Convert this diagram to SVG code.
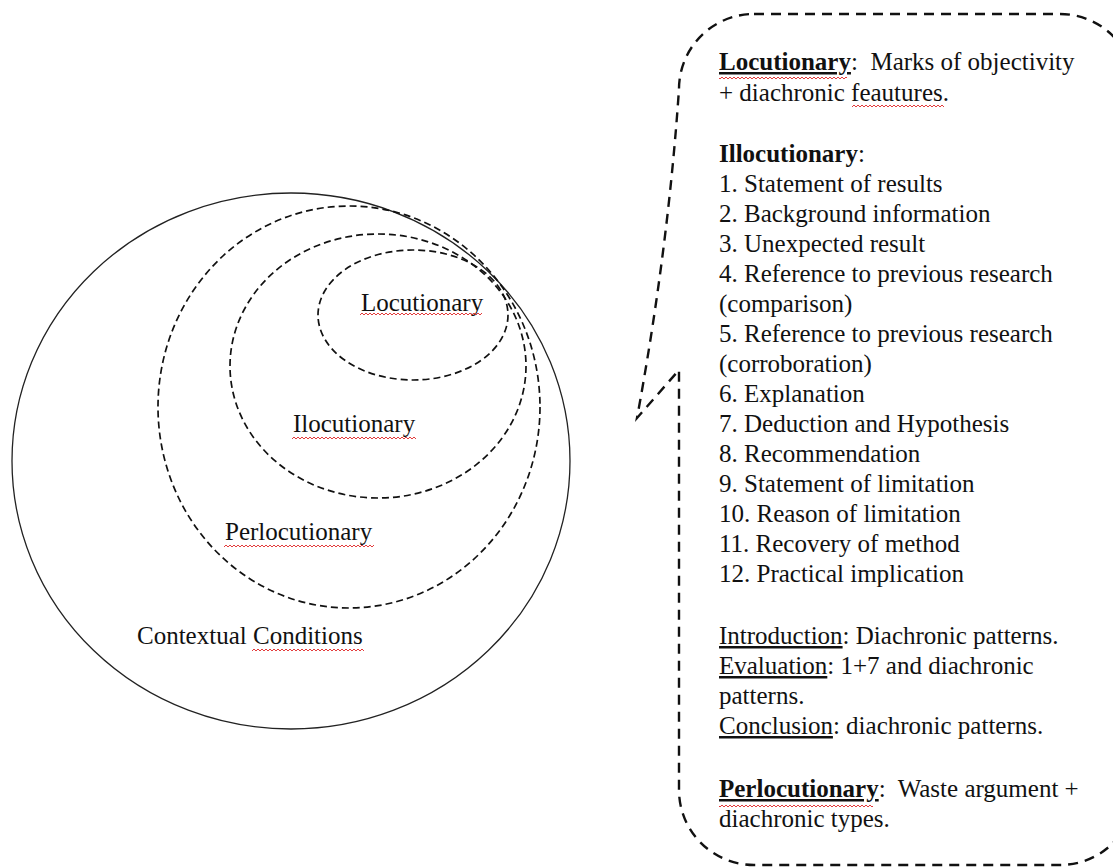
<svg xmlns="http://www.w3.org/2000/svg" width="1113" height="868" viewBox="0 0 1113 868">
<style>
text{font-family:"Liberation Serif","Times New Roman",serif;font-size:25px;fill:#111}
.b{font-weight:bold}
.u{text-decoration:underline}
.solid{fill:none;stroke:#222;stroke-width:1.3}
.dash{fill:none;stroke:#111;stroke-width:1.7;stroke-dasharray:7 4}
.bubble{fill:none;stroke:#111;stroke-width:2.4;stroke-dasharray:10 7}
</style>
<defs>
<pattern id="sq" width="4" height="4" patternUnits="userSpaceOnUse"><path d="M0,3 L2,1 L4,3" fill="none" stroke="#e02525" stroke-width="0.9"/></pattern>
</defs>
<rect width="1113" height="868" fill="#fff"/>
<g id="contextual">
<ellipse class="solid" cx="291" cy="461" rx="279" ry="268"/>
<text x="137" y="644">Contextual Conditions</text>
<rect x="252" y="648" width="112" height="4" fill="url(#sq)"/>
</g>
<g id="perlocutionary">
<ellipse class="dash" cx="349" cy="407" rx="191" ry="201"/>
<text x="225" y="540">Perlocutionary</text>
<rect x="224" y="544" width="150" height="4" fill="url(#sq)"/>
</g>
<g id="ilocutionary">
<ellipse class="dash" cx="378" cy="366" rx="148" ry="132"/>
<text x="293" y="432">Ilocutionary</text>
<rect x="292" y="436" width="124" height="4" fill="url(#sq)"/>
</g>
<g id="locutionary">
<ellipse class="dash" cx="413" cy="315" rx="95" ry="65"/>
<text x="361" y="311">Locutionary</text>
<rect x="360" y="312" width="122" height="4" fill="url(#sq)"/>
</g>
<g id="callout">
<path class="bubble" d="M754,14 L1060,14 A75,75 0 0 1 1135,89 L1135,790 A75,75 0 0 1 1060,865 L754,865 A75,75 0 0 1 679,790 L679,370 L637,418 Q668,250 679,89 A75,75 0 0 1 754,14 Z"/>
<text x="719" y="70" xml:space="preserve"><tspan class="b u">Locutionary</tspan>:  Marks of objectivity</text>
<text x="719" y="101">+ diachronic feautures.</text>
<rect x="719" y="76" width="128" height="4" fill="url(#sq)"/>
<rect x="852" y="104" width="92" height="4" fill="url(#sq)"/>
<text x="719" y="162"><tspan class="b">Illocutionary</tspan>:</text>
<text x="719" y="192">1. Statement of results</text>
<text x="719" y="222">2. Background information</text>
<text x="719" y="252">3. Unexpected result</text>
<text x="719" y="282">4. Reference to previous research</text>
<text x="719" y="312">(comparison)</text>
<text x="719" y="342">5. Reference to previous research</text>
<text x="719" y="372">(corroboration)</text>
<text x="719" y="402">6. Explanation</text>
<text x="719" y="432">7. Deduction and Hypothesis</text>
<text x="719" y="462">8. Recommendation</text>
<text x="719" y="492">9. Statement of limitation</text>
<text x="719" y="522">10. Reason of limitation</text>
<text x="719" y="552">11. Recovery of method</text>
<text x="719" y="582">12. Practical implication</text>
<text x="719" y="644"><tspan class="u">Introduction</tspan>: Diachronic patterns.</text>
<text x="719" y="674"><tspan class="u">Evaluation</tspan>: 1+7 and diachronic</text>
<text x="719" y="704">patterns.</text>
<text x="719" y="734"><tspan class="u">Conclusion</tspan>: diachronic patterns.</text>
<text x="719" y="797" xml:space="preserve"><tspan class="b u">Perlocutionary</tspan>:  Waste argument +</text>
<text x="719" y="827">diachronic types.</text>
<rect x="719" y="804" width="154" height="4" fill="url(#sq)"/>
</g>
</svg>
